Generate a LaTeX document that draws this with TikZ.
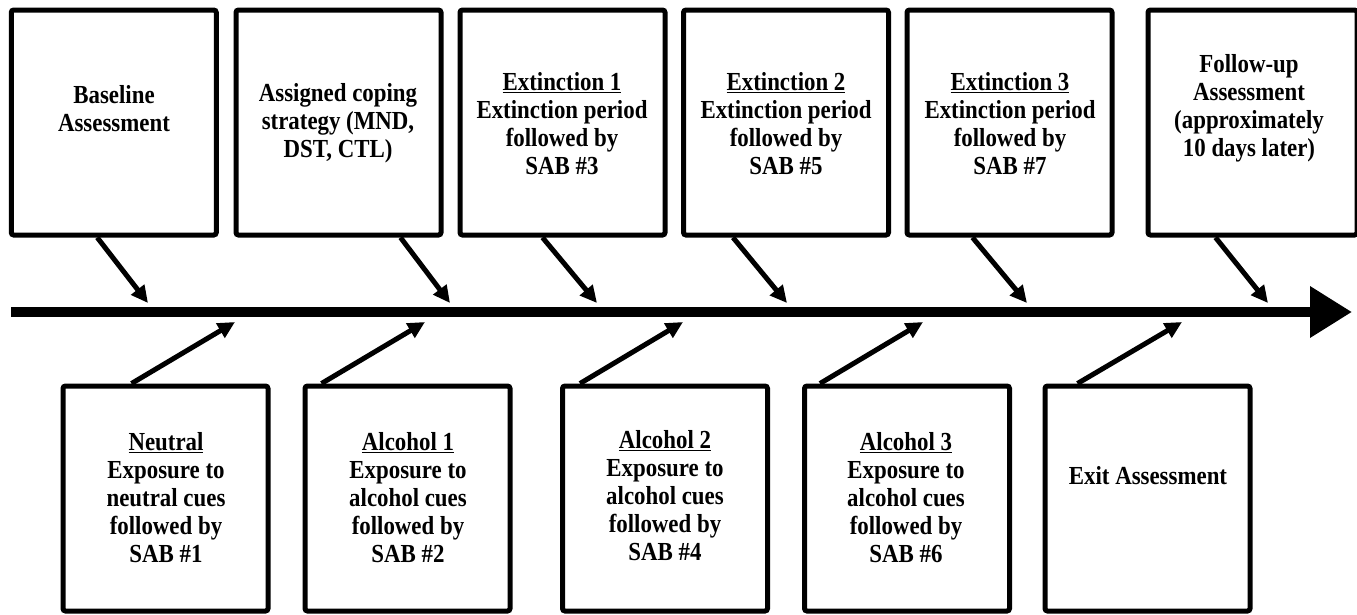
\documentclass[tikz,border=0pt]{standalone}
\usepackage{fontspec}
\setmainfont{Liberation Serif}[FakeStretch=0.88]
\usetikzlibrary{arrows.meta}
\tikzset{
  box/.style={draw, line width=5pt, rounded corners=2.5pt, minimum width=205pt, minimum height=225pt, inner sep=0pt, fill=white},
  lbl/.style={align=center, font=\fontsize{26}{28}\selectfont\bfseries, inner sep=0pt},
  conn/.style={line width=5pt, -{Triangle[length=17pt,width=16pt]}},
  axis/.style={line width=10pt, -{Triangle[length=42pt,width=49pt]}}
}
\begin{document}
\begin{tikzpicture}[x=1pt,y=-1pt]
\useasboundingbox (0,0) rectangle (1357,614);
\clip (0,0) rectangle (1357,614);
% top boxes
\node[box] (t1) at (113.75,122.5) {};
\node[box] (t2) at (338.5,122.5) {};
\node[box] (t3) at (562.5,122.5) {};
\node[box] (t4) at (786,122.5) {};
\node[box] (t5) at (1009.5,122.5) {};
\node[box, minimum width=209pt] (t6) at (1252.5,122.5) {};
% bottom boxes
\node[box] (b1) at (165.5,498.5) {};
\node[box] (b2) at (407.5,498.5) {};
\node[box] (b3) at (665,498.5) {};
\node[box] (b4) at (907,498.5) {};
\node[box] (b5) at (1147.5,498.5) {};
% labels
\node[lbl] (lt1) at (114,109) {Baseline\\Assessment};
\node[lbl] (lt2) at (338,123) {Assigned coping\\strategy (MND,\\DST, CTL)};
\node[lbl] (lt3) at (562,124) {\underline{Extinction 1}\\Extinction period\\followed by\\SAB \#3};
\node[lbl] (lt4) at (786,124) {\underline{Extinction 2}\\Extinction period\\followed by\\SAB \#5};
\node[lbl] (lt5) at (1010,124) {\underline{Extinction 3}\\Extinction period\\followed by\\SAB \#7};
\node[lbl] (lt6) at (1249,108) {Follow-up\\Assessment\\(approximately\\10 days later)};
\node[lbl] (lb1) at (166,498) {\underline{Neutral}\\Exposure to\\neutral cues\\followed by\\SAB \#1};
\node[lbl] (lb2) at (408,498) {\underline{Alcohol 1}\\Exposure to\\alcohol cues\\followed by\\SAB \#2};
\node[lbl] (lb3) at (665,496) {\underline{Alcohol 2}\\Exposure to\\alcohol cues\\followed by\\SAB \#4};
\node[lbl] (lb4) at (906,498) {\underline{Alcohol 3}\\Exposure to\\alcohol cues\\followed by\\SAB \#6};
\node[lbl] (lb5) at (1148,476) {Exit Assessment};
% timeline
\coordinate (a0) at (11,312);
\coordinate (a1) at (1352,312);
\draw[axis] (a0) -- (a1);
% arrow targets
\coordinate (pt1) at (148,303);
\coordinate (pt2) at (450,303);
\coordinate (pt3) at (597,303);
\coordinate (pt4) at (787,303);
\coordinate (pt5) at (1027,303);
\coordinate (pt6) at (1268,303);
\coordinate (pb1) at (235,322);
\coordinate (pb2) at (425,322);
\coordinate (pb3) at (683,322);
\coordinate (pb4) at (923,322);
\coordinate (pb5) at (1182,322);
% top connectors
\draw[conn] ([xshift=88.5pt]t1.south west) -- (pt1);
\draw[conn] ([xshift=167pt]t2.south west) -- (pt2);
\draw[conn] ([xshift=85pt]t3.south west) -- (pt3);
\draw[conn] ([xshift=52pt]t4.south west) -- (pt4);
\draw[conn] ([xshift=68pt]t5.south west) -- (pt5);
\draw[conn] ([xshift=70pt]t6.south west) -- (pt6);
% bottom connectors
\draw[conn] ([xshift=71pt]b1.north west) -- (pb1);
\draw[conn] ([xshift=19pt]b2.north west) -- (pb2);
\draw[conn] ([xshift=20pt]b3.north west) -- (pb3);
\draw[conn] ([xshift=18pt]b4.north west) -- (pb4);
\draw[conn] ([xshift=35pt]b5.north west) -- (pb5);
\end{tikzpicture}
\end{document}
